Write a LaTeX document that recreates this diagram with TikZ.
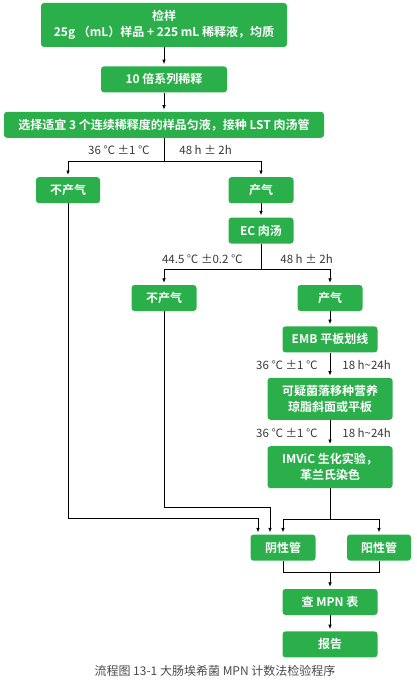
\documentclass[tikz,border=0pt]{standalone}
\usepackage{fontspec}
\setmainfont{Noto Sans CJK SC}[BoldFont={Noto Sans CJK SC Bold}]
\usetikzlibrary{positioning, arrows.meta, calc}
\definecolor{boxgreen}{HTML}{2BAF4B}
\definecolor{labelgray}{HTML}{383838}
\definecolor{captiongray}{HTML}{4A4A4A}

\begin{document}
\begin{tikzpicture}[
    x=1pt, y=1pt,
    >={Latex[length=4.5pt,width=3.6pt]},
    box/.style={
        rectangle, fill=boxgreen, rounded corners=3pt, minimum height=26pt,
        inner sep=0pt, align=center, text=white,
        font=\fontsize{12}{16}\selectfont\bfseries
    },
    tallbox/.style={box, minimum height=42pt},
    arrow/.style={->, line width=0.8pt, shorten >=2pt},
    link/.style={line width=0.8pt},
    cond/.style={font=\fontsize{11.5}{13}\selectfont, text=labelgray, inner sep=0pt},
]
\useasboundingbox (0,0) rectangle (417,-682);

% ── Sample and dilution ────────────────────────────────────────────────
\node[box, minimum width=246pt, minimum height=44pt] (sample) at (164,-25)
    {检样\\25g （mL）样品 + 225 mL 稀释液，均质};
\node[box, minimum width=126pt, below=19pt of sample] (dilute) {10 倍系列稀释};
\node[box, minimum width=320pt, below=19pt of dilute] (inoc)
    {选择适宜 3 个连续稀释度的样品匀液，接种 LST 肉汤管};

% ── LST result ─────────────────────────────────────────────────────────
\coordinate[below=23pt of inoc] (b1);
\node[box, minimum width=64pt, below=39pt of inoc, xshift=-96pt] (neg1) {不产气};
\node[box, minimum width=65pt, below=39pt of inoc, xshift=97pt] (gas1) {产气};

% ── EC broth ───────────────────────────────────────────────────────────
\node[box, minimum width=65pt, below=14pt of gas1] (ec) {EC 肉汤};
\coordinate[below=26pt of ec] (b2);
\node[box, minimum width=65pt, below=41pt of ec, xshift=-97pt] (neg2) {不产气};
\node[box, minimum width=65pt, below=41pt of ec, xshift=69pt] (gas2) {产气};

% ── Confirmation ───────────────────────────────────────────────────────
\node[box, minimum width=95pt, below=15pt of gas2] (emb) {EMB 平板划线};
\node[tallbox, minimum width=125pt, below=25pt of emb] (susp)
    {可疑菌落移种营养\\琼脂斜面或平板};
\node[tallbox, minimum width=125pt, below=26pt of susp] (imvic)
    {IMViC 生化实验，\\革兰氏染色};

% ── Tubes and result ───────────────────────────────────────────────────
\coordinate[below=31pt of imvic] (b3);
\node[box, minimum width=65pt, below=46pt of imvic, xshift=-47pt] (negt) {阴性管};
\node[box, minimum width=64pt, below=46pt of imvic, xshift=49pt] (post) {阳性管};
\coordinate (b4) at ($(negt.south -| imvic.south)+(0,-12)$);
\node[box, minimum width=95pt, below=16pt of b4] (mpn) {查 MPN 表};
\node[box, minimum width=95pt, below=16pt of mpn] (report) {报告};

\node[font=\fontsize{12}{14}\selectfont, text=captiongray] (caption) at (215,-671)
    {流程图 13-1 大肠埃希菌 MPN 计数法检验程序};

% ── Arrows ─────────────────────────────────────────────────────────────
\draw[arrow] (sample) -- (dilute);
\draw[arrow] (dilute) -- (inoc);
\draw[link] (inoc) -- (b1)
    node[cond, midway, left=14pt] (t1a) {36 ℃ ±1 ℃}
    node[cond, midway, right=15pt] (t1b) {48 h ± 2h};
\draw[arrow] (b1) -| (neg1);
\draw[arrow] (b1) -| (gas1);
\draw[arrow] (gas1) -- (ec);
\draw[link] (ec) -- (b2)
    node[cond, midway, left=18pt, yshift=-2pt] (t2a) {44.5 ℃ ±0.2 ℃}
    node[cond, midway, right=19pt, yshift=-2pt] (t2b) {48 h ± 2h};
\draw[arrow] (b2) -| (neg2);
\draw[arrow] (b2) -| (gas2);
\draw[arrow] (gas2) -- (emb);
\draw[arrow] (emb) -- (susp)
    node[cond, midway, left=12pt] (t3a) {36 ℃ ±1 ℃}
    node[cond, midway, right=12pt] (t3b) {18 h\textasciitilde 24h};
\draw[arrow] (susp) -- (imvic)
    node[cond, midway, left=12pt] (t4a) {36 ℃ ±1 ℃}
    node[cond, midway, right=12pt] (t4b) {18 h\textasciitilde 24h};
\draw[link] (imvic) -- (b3);
\draw[arrow] (b3) -| (negt);
\draw[arrow] (b3) -| (post);

\coordinate (in1) at ($(negt.north)+(-25,0)$);
\coordinate (in2) at ($(negt.north)+(-13,0)$);
\draw[arrow] (neg1) |- ([yshift=16pt]in1) -- (in1);
\draw[arrow] (neg2) |- ([yshift=27pt]in2) -- (in2);

\draw[link] (negt) |- (b4) -| (post);
\draw[arrow] (b4) -- (mpn);
\draw[arrow] (mpn) -- (report);

\end{tikzpicture}
\end{document}
